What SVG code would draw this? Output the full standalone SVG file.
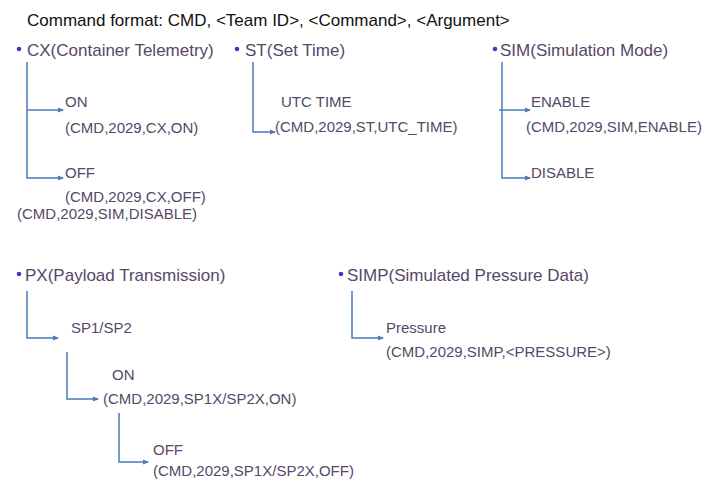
<svg xmlns="http://www.w3.org/2000/svg" width="705" height="481" viewBox="0 0 705 481">
<style>
text{font-family:"Liberation Sans",Arial,sans-serif;fill:#564868}
.t{font-size:17px;fill:#111}
.h{font-size:17px}
.s{font-size:15px}
.b{fill:#3a3ccc}
.c{fill:none;stroke:#4a7ab8;stroke-width:1.5}
</style>
<defs>
<marker id="a" viewBox="0 0 6 6" refX="5" refY="3" markerWidth="6" markerHeight="6" markerUnits="userSpaceOnUse" orient="auto">
<path d="M0,0.5L6,3L0,5.5z" fill="#4a7ab8"/>
</marker>
</defs>
<rect width="705" height="481" fill="#fff"/>
<text class="t" x="27" y="26">Command format: CMD, &lt;Team ID&gt;, &lt;Command&gt;, &lt;Argument&gt;</text>
<g id="connectors">
<path class="c" d="M27,62V178H63" marker-end="url(#a)"/>
<path class="c" d="M27,110H63" marker-end="url(#a)"/>
<path class="c" d="M253,62V132H275" marker-end="url(#a)"/>
<path class="c" d="M502,62V178H530" marker-end="url(#a)"/>
<path class="c" d="M499,110H530" marker-end="url(#a)"/>
<path class="c" d="M27,291V338H58" marker-end="url(#a)"/>
<path class="c" d="M67,352V399H98" marker-end="url(#a)"/>
<path class="c" d="M119,413V462H148" marker-end="url(#a)"/>
<path class="c" d="M352,291V338H383" marker-end="url(#a)"/>
</g>
<g id="cx">
<circle class="b" cx="19" cy="49" r="2.3"/>
<text class="h" x="27" y="56">CX(Container Telemetry)</text>
</g>
<g id="cx-on">
<text class="s" x="65" y="107">ON</text>
<text class="s" x="65" y="133">(CMD,2029,CX,ON)</text>
</g>
<g id="cx-off">
<text class="s" x="65" y="178">OFF</text>
<text class="s" x="65" y="202">(CMD,2029,CX,OFF)</text>
<text class="s" x="17" y="219">(CMD,2029,SIM,DISABLE)</text>
</g>
<g id="st">
<circle class="b" cx="237" cy="49" r="2.3"/>
<text class="h" x="245" y="56">ST(Set Time)</text>
</g>
<g id="st-utc">
<text class="s" x="281" y="107">UTC TIME</text>
<text class="s" x="275" y="132">(CMD,2029,ST,UTC_TIME)</text>
</g>
<g id="sim">
<circle class="b" cx="495" cy="49" r="2.3"/>
<text class="h" x="500" y="56">SIM(Simulation Mode)</text>
</g>
<g id="sim-enable">
<text class="s" x="531" y="107">ENABLE</text>
<text class="s" x="526" y="132">(CMD,2029,SIM,ENABLE)</text>
</g>
<g id="sim-disable">
<text class="s" x="531" y="178">DISABLE</text>
</g>
<g id="px">
<circle class="b" cx="19" cy="274" r="2.3"/>
<text class="h" x="25" y="281">PX(Payload Transmission)</text>
</g>
<g id="px-sp">
<text class="s" x="71" y="333">SP1/SP2</text>
</g>
<g id="px-on">
<text class="s" x="112" y="380">ON</text>
<text class="s" x="103" y="404">(CMD,2029,SP1X/SP2X,ON)</text>
</g>
<g id="px-off">
<text class="s" x="153" y="455">OFF</text>
<text class="s" x="153" y="476">(CMD,2029,SP1X/SP2X,OFF)</text>
</g>
<g id="simp">
<circle class="b" cx="341" cy="274" r="2.3"/>
<text class="h" x="347" y="281">SIMP(Simulated Pressure Data)</text>
</g>
<g id="simp-pressure">
<text class="s" x="386" y="333">Pressure</text>
<text class="s" x="386" y="357">(CMD,2029,SIMP,&lt;PRESSURE&gt;)</text>
</g>
</svg>
